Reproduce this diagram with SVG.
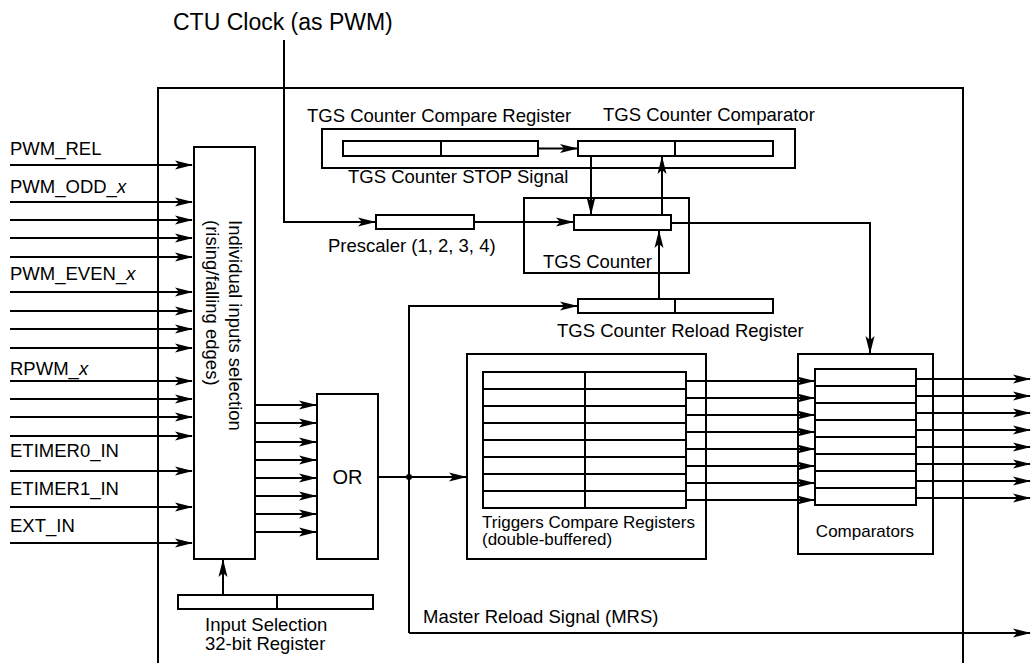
<svg xmlns="http://www.w3.org/2000/svg" width="1032" height="663" viewBox="0 0 1032 663">
<style>
.b{fill:#fff;stroke:#000;stroke-width:2}
.n{fill:none;stroke:#000;stroke-width:2}
.a{marker-end:url(#ah)}
text{font-family:"Liberation Sans",Arial,sans-serif;font-size:18.5px;fill:#000}
text.s17{font-size:17px}
text.big{font-size:23px}
text.or{font-size:20px}
</style>
<defs>
<marker id="ah" viewBox="0 0 18 10" refX="17" refY="5" markerWidth="18" markerHeight="10" markerUnits="userSpaceOnUse" orient="auto">
<path d="M0,0.5 L18,5 L0,9.5 L4,5 Z" fill="#000"/>
</marker>
</defs>
<rect x="0" y="0" width="1032" height="663" fill="#fff"/>

<g id="outer-block">
<path class="n" d="M158,663 V88 H963 V663"/>
</g>

<g id="input-selection">
<rect class="b" x="194" y="147" width="61" height="412"/>
<text transform="translate(229,220) rotate(90)">Individual inputs selection</text>
<text transform="translate(206,220) rotate(90)">(rising/falling edges)</text>
</g>

<g id="or-gate">
<rect class="b" x="317" y="394" width="61" height="165"/>
<text class="or" x="347.5" y="484" text-anchor="middle">OR</text>
</g>

<g id="input-selection-register">
<rect class="b" x="178" y="595" width="195" height="14"/>
<path class="n" d="M277,595 V609"/>
<text x="205" y="631">Input Selection</text>
<text x="205" y="650">32-bit Register</text>
</g>

<g id="tgs-compare">
<rect class="n" x="322" y="129" width="473" height="39"/>
<rect class="b" x="343" y="141" width="195" height="15"/>
<path class="n" d="M441,141 V156"/>
<rect class="b" x="578" y="141" width="195" height="15"/>
<path class="n" d="M675,141 V156"/>
<text x="307" y="122">TGS Counter Compare Register</text>
<text x="603" y="121">TGS Counter Comparator</text>
<text x="348" y="183">TGS Counter STOP Signal</text>
</g>

<g id="prescaler">
<rect class="b" x="376" y="215" width="98" height="14"/>
<text x="328" y="252">Prescaler (1, 2, 3, 4)</text>
</g>

<g id="tgs-counter">
<rect class="n" x="524" y="198" width="165" height="75"/>
<rect class="b" x="574" y="215" width="97" height="15"/>
<text x="543" y="268">TGS Counter</text>
</g>

<g id="tgs-reload-register">
<rect class="b" x="578" y="299" width="195" height="14"/>
<path class="n" d="M675,299 V313"/>
<text x="557" y="337">TGS Counter Reload Register</text>
</g>

<g id="triggers-compare-registers">
<rect class="b" x="467" y="354" width="239" height="205"/>
<rect class="b" x="483" y="372" width="203" height="136"/>
<path class="n" d="M585,372 V508 M483,389 H686 M483,406 H686 M483,423 H686 M483,440 H686 M483,457 H686 M483,474 H686 M483,491 H686"/>
<text class="s17" x="482" y="528">Triggers Compare Registers</text>
<text class="s17" x="482" y="545">(double-buffered)</text>
</g>

<g id="comparators">
<rect class="b" x="798" y="354" width="135" height="200"/>
<rect class="b" x="815" y="369" width="101" height="136"/>
<path class="n" d="M815,386 H916 M815,403 H916 M815,420 H916 M815,437 H916 M815,454 H916 M815,471 H916 M815,488 H916"/>
<text class="s17" x="865" y="537" text-anchor="middle">Comparators</text>
</g>

<g id="connectors">
<path class="n a" d="M10,165 H192"/>
<path class="n a" d="M10,202 H192"/>
<path class="n a" d="M10,220 H192"/>
<path class="n a" d="M10,238 H192"/>
<path class="n a" d="M10,257 H192"/>
<path class="n a" d="M10,292 H192"/>
<path class="n a" d="M10,311 H192"/>
<path class="n a" d="M10,329 H192"/>
<path class="n a" d="M10,348 H192"/>
<path class="n a" d="M10,381 H192"/>
<path class="n a" d="M10,399 H192"/>
<path class="n a" d="M10,417 H192"/>
<path class="n a" d="M10,436 H192"/>
<path class="n a" d="M10,471 H192"/>
<path class="n a" d="M10,507 H192"/>
<path class="n a" d="M10,543 H192"/>
<path class="n a" d="M255,405 H316"/>
<path class="n a" d="M255,423 H316"/>
<path class="n a" d="M255,442 H316"/>
<path class="n a" d="M255,460 H316"/>
<path class="n a" d="M255,478 H316"/>
<path class="n a" d="M255,496 H316"/>
<path class="n a" d="M255,514 H316"/>
<path class="n a" d="M255,532 H316"/>
<path class="n a" d="M223,595 V560"/>
<path class="n a" d="M378,477 H466"/>
<circle cx="409" cy="477" r="3" fill="#000"/>
<path class="n a" d="M409,633 V306 H577"/>
<path class="n a" d="M409,633 H1030"/>
<path class="n a" d="M284,40 V222 H375"/>
<path class="n a" d="M474,222 H573"/>
<path class="n a" d="M538,148.5 H577"/>
<path class="n a" d="M591,156 V214"/>
<path class="n a" d="M662,215 V157"/>
<path class="n a" d="M659,299 V231"/>
<path class="n a" d="M671,223 H870 V353"/>
<path class="n a" d="M686,381 H814"/>
<path class="n a" d="M686,398 H814"/>
<path class="n a" d="M686,415 H814"/>
<path class="n a" d="M686,432 H814"/>
<path class="n a" d="M686,449 H814"/>
<path class="n a" d="M686,466 H814"/>
<path class="n a" d="M686,483 H814"/>
<path class="n a" d="M686,500 H814"/>
<path class="n a" d="M916,379 H1030"/>
<path class="n a" d="M916,396 H1030"/>
<path class="n a" d="M916,413 H1030"/>
<path class="n a" d="M916,430 H1030"/>
<path class="n a" d="M916,447 H1030"/>
<path class="n a" d="M916,464 H1030"/>
<path class="n a" d="M916,481 H1030"/>
<path class="n a" d="M916,498 H1030"/>
</g>

<g id="labels">
<text class="big" x="173" y="30">CTU Clock (as PWM)</text>
<text x="10" y="155">PWM_REL</text>
<text x="10" y="193">PWM_ODD_<tspan font-style="italic">x</tspan></text>
<text x="10" y="280">PWM_EVEN_<tspan font-style="italic">x</tspan></text>
<text x="10" y="375">RPWM_<tspan font-style="italic">x</tspan></text>
<text x="10" y="457">ETIMER0_IN</text>
<text x="10" y="495">ETIMER1_IN</text>
<text x="10" y="532">EXT_IN</text>
<text x="423" y="623">Master Reload Signal (MRS)</text>
</g>
</svg>
